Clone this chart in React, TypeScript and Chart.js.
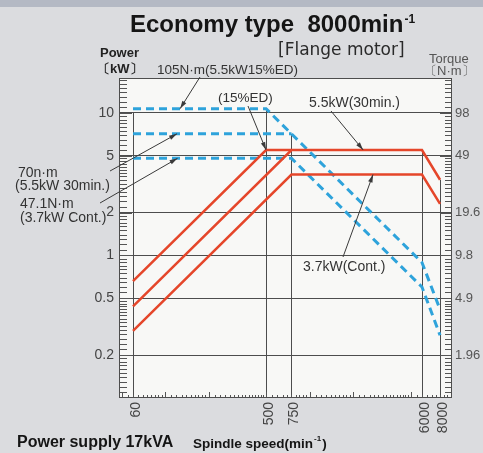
import { useEffect, useRef } from 'react';
import { Chart, registerables } from 'chart.js';

Chart.register(...registerables);

const W = 483;
const H = 453;
const KW_TO_NM = 9.8;

// axis ticks
const speedTicks = [60, 500, 750, 6000, 8000];
const powerTicks = [10, 5, 2, 1, 0.5, 0.2];
const torqueTicks = [98, 49, 19.6, 9.8, 4.9, 1.96];

// axis ranges
const speedMin = 48;
const speedMax = 9680;
const powerMin = 0.1;
const powerMax = 17.6;

// power curves (kW)
const p15Speed = [60, 500, 750];
const p15Power = [0.66, 5.5, 5.5];
const p30Speed = [60, 750, 6000, 8000];
const p30Power = [0.44, 5.5, 5.5, 3.4];
const pContSpeed = [60, 750, 6000, 8000];
const pContPower = [0.296, 3.7, 3.7, 2.3];

// torque curves (N·m)
const t15Speed = [60, 500, 6000, 8000];
const t15Torque = [105, 105, 8.75, 4.1];
const t30Speed = [60, 750];
const t30Torque = [70, 70];
const tContSpeed = [60, 750, 6000, 8000];
const tContTorque = [47.1, 47.1, 5.89, 2.7];

// vertical drop lines (speed, top in kW)
const dropSpeed = [60, 500, 750, 6000, 8000];
const dropTopPower = [10, 10.7, 7.14, 5.5, 3.4];

const FONT = "'Liberation Sans', Arial, Helvetica, sans-serif";
const RED = '#e5462a';
const BLUE = '#2ea3db';
const INK = '#333333';
const GRID = '#4d4d4d';

const xy = (xs: number[], ys: number[]) => xs.map((x, i) => ({ x, y: ys[i] }));

function minorValues(lo: number, hi: number) {
  const out: { v: number; major: boolean }[] = [];
  for (let e = -3; e <= 5; e++) {
    const d = Math.pow(10, e);
    for (let k = 10; k < 100; ) {
      const v = (d * k) / 10;
      if (v > lo && v < hi) out.push({ v, major: k === 10 || k === 20 || k === 50 });
      k += k < 20 ? 1 : k < 50 ? 2 : 5;
    }
  }
  return out;
}

function arrow(ctx: CanvasRenderingContext2D, x1: number, y1: number, x2: number, y2: number) {
  ctx.beginPath();
  ctx.moveTo(x1, y1);
  ctx.lineTo(x2, y2);
  ctx.stroke();
  const a = Math.atan2(y2 - y1, x2 - x1);
  const L = 8;
  const w = 2.3;
  ctx.beginPath();
  ctx.moveTo(x2, y2);
  ctx.lineTo(x2 - L * Math.cos(a) + w * Math.sin(a), y2 - L * Math.sin(a) - w * Math.cos(a));
  ctx.lineTo(x2 - L * Math.cos(a) - w * Math.sin(a), y2 - L * Math.sin(a) + w * Math.cos(a));
  ctx.closePath();
  ctx.fill();
}

function text(
  ctx: CanvasRenderingContext2D,
  s: string,
  x: number,
  y: number,
  font: string,
  color = INK,
  align: CanvasTextAlign = 'left'
) {
  ctx.font = font;
  ctx.fillStyle = color;
  ctx.textAlign = align;
  ctx.textBaseline = 'alphabetic';
  ctx.fillText(s, x, y);
  return ctx.measureText(s).width;
}

const decor = {
  id: 'decor',
  beforeDraw(chart: any) {
    const { ctx, chartArea: a } = chart;
    ctx.save();
    ctx.fillStyle = '#dbdcdf';
    ctx.fillRect(0, 0, chart.width, chart.height);
    ctx.fillStyle = '#b4b9c4';
    ctx.fillRect(0, 0, chart.width, 7);
    ctx.fillStyle = '#f8f8f6';
    ctx.fillRect(a.left, a.top, a.right - a.left, a.bottom - a.top);
    ctx.restore();
  },
  beforeDatasetsDraw(chart: any) {
    const { ctx, chartArea: a } = chart;
    const xs = chart.scales.x;
    const ys = chart.scales.y;
    ctx.save();
    ctx.strokeStyle = GRID;
    ctx.lineWidth = 1;
    // drop lines
    dropSpeed.forEach((s, i) => {
      const px = Math.round(xs.getPixelForValue(s)) + 0.5;
      ctx.beginPath();
      ctx.moveTo(px, ys.getPixelForValue(dropTopPower[i]));
      ctx.lineTo(px, a.bottom);
      ctx.stroke();
    });
    // minor ticks left / right
    ctx.strokeStyle = '#555';
    minorValues(powerMin, powerMax).forEach(({ v, major }) => {
      const py = Math.round(ys.getPixelForValue(v)) + 0.5;
      ctx.beginPath();
      ctx.moveTo(a.left, py);
      ctx.lineTo(a.left + (major ? 13 : 8), py);
      ctx.moveTo(a.right, py);
      ctx.lineTo(a.right - (major ? 12 : 7), py);
      ctx.stroke();
    });
    // minor ticks bottom
    minorValues(speedMin, speedMax).forEach(({ v, major }) => {
      const px = Math.round(xs.getPixelForValue(v)) + 0.5;
      ctx.beginPath();
      ctx.moveTo(px, a.bottom);
      ctx.lineTo(px, a.bottom - (major ? 6 : 3));
      ctx.stroke();
    });
    // frame
    ctx.strokeStyle = GRID;
    ctx.strokeRect(a.left + 0.5, a.top + 0.5, a.right - a.left - 1, a.bottom - a.top - 1);
    ctx.restore();
  },
  afterDraw(chart: any) {
    const { ctx } = chart;
    const xs = chart.scales.x;
    const ys = chart.scales.y;
    const yt = chart.scales.y1;
    ctx.save();
    // title
    const tw = text(ctx, 'Economy type  8000min', 130, 32, `bold 24px ${FONT}`, '#151515');
    text(ctx, '-1', 131 + tw, 23, `bold 12px ${FONT}`, '#151515');
    text(ctx, '[Flange motor]', 278, 55, `17px 'DejaVu Sans', ${FONT}`, '#2a2a2a');
    text(ctx, 'Power', 100, 57, `bold 13px ${FONT}`, '#222');
    text(ctx, '〔kW〕', 97, 73, `bold 13px ${FONT}`, '#222');
    text(ctx, 'Torque', 429, 63, `13px ${FONT}`, '#555');
    text(ctx, '〔N·m〕', 424, 75, `13px ${FONT}`, '#555');

    const f = `14px ${FONT}`;
    text(ctx, '105N·m(5.5kW15%ED)', 157, 74, `13.5px ${FONT}`);
    text(ctx, '(15%ED)', 218, 102, `13.5px ${FONT}`);
    text(ctx, '5.5kW(30min.)', 309, 107, f);
    text(ctx, '70n·m', 18, 177, f);
    text(ctx, '(5.5kW 30min.)', 15, 190, f);
    text(ctx, '47.1N·m', 20, 208, f);
    text(ctx, '(3.7kW Cont.)', 20, 222, f);
    text(ctx, '3.7kW(Cont.)', 303, 271, f);

    // bottom captions
    text(ctx, 'Power supply 17kVA', 17, 447, `bold 16px ${FONT}`, '#151515');
    const sw = text(ctx, 'Spindle speed(min', 193, 448, `bold 13.5px ${FONT}`, '#151515');
    const ew = text(ctx, '-1', 194 + sw, 441, `bold 8px ${FONT}`, '#151515');
    text(ctx, ')', 195 + sw + ew, 448, `bold 13.5px ${FONT}`, '#151515');

    // leader arrows
    ctx.strokeStyle = '#3a3a3a';
    ctx.fillStyle = '#3a3a3a';
    ctx.lineWidth = 1;
    arrow(ctx, 200, 77, xs.getPixelForValue(127), yt.getPixelForValue(105));
    arrow(ctx, 248, 106, xs.getPixelForValue(500), ys.getPixelForValue(5.5));
    arrow(ctx, 331, 111, xs.getPixelForValue(2350), ys.getPixelForValue(5.5));
    arrow(ctx, 110, 171, xs.getPixelForValue(121), yt.getPixelForValue(70));
    arrow(ctx, 100, 203, xs.getPixelForValue(122), yt.getPixelForValue(47.1));
    arrow(ctx, 343, 257, xs.getPixelForValue(2750), ys.getPixelForValue(3.7));
    ctx.restore();
  },
};

export default function App() {
  const ref = useRef<HTMLCanvasElement>(null);
  useEffect(() => {
    const prev = document.body.style.margin;
    document.body.style.margin = '0';
    const red = (data: any) => ({
      data,
      yAxisID: 'y',
      borderColor: RED,
      borderWidth: 2.5,
      pointRadius: 0,
      tension: 0,
      fill: false,
    });
    const blue = (data: any) => ({
      data,
      yAxisID: 'y1',
      borderColor: BLUE,
      borderWidth: 3,
      borderDash: [8, 5],
      pointRadius: 0,
      tension: 0,
      fill: false,
    });
    const chart = new Chart(ref.current as HTMLCanvasElement, {
      type: 'line',
      data: {
        datasets: [
          red(xy(p15Speed, p15Power)),
          red(xy(p30Speed, p30Power)),
          red(xy(pContSpeed, pContPower)),
          blue(xy(t15Speed, t15Torque)),
          blue(xy(t30Speed, t30Torque)),
          blue(xy(tContSpeed, tContTorque)),
        ] as any,
      },
      options: {
        animation: false,
        responsive: false,
        devicePixelRatio: 1,
        layout: { padding: { top: 78, left: 0, right: 0, bottom: 0 } },
        plugins: { legend: { display: false }, tooltip: { enabled: false }, title: { display: false } },
        scales: {
          x: {
            type: 'logarithmic',
            bounds: 'data',
            min: speedMin,
            max: speedMax,
            afterBuildTicks: (s: any) => {
              s.ticks = speedTicks.map((v) => ({ value: v }));
            },
            afterFit: (s: any) => {
              s.height = 55;
            },
            grid: { display: false, drawTicks: false },
            border: { display: false },
            ticks: {
              autoSkip: false,
              minRotation: 90,
              maxRotation: 90,
              padding: 4,
              labelOffset: 3,
              color: '#444',
              font: { family: FONT, size: 14 },
              callback: (v: any) => String(v),
            },
          },
          y: {
            type: 'logarithmic',
            position: 'left',
            bounds: 'data',
            min: powerMin,
            max: powerMax,
            afterBuildTicks: (s: any) => {
              s.ticks = powerTicks.map((v) => ({ value: v }));
            },
            afterFit: (s: any) => {
              s.width = 119;
            },
            grid: { color: GRID, lineWidth: 1, drawTicks: false },
            border: { display: false },
            ticks: {
              padding: 5,
              color: '#444',
              font: { family: FONT, size: 14 },
              callback: (v: any) => String(v),
            },
          },
          y1: {
            type: 'logarithmic',
            position: 'right',
            bounds: 'data',
            min: powerMin * KW_TO_NM,
            max: powerMax * KW_TO_NM,
            afterBuildTicks: (s: any) => {
              s.ticks = torqueTicks.map((v) => ({ value: v }));
            },
            afterFit: (s: any) => {
              s.width = 31;
            },
            grid: { display: false, drawTicks: false },
            border: { display: false },
            ticks: {
              padding: 3,
              color: '#555',
              font: { family: FONT, size: 13 },
              callback: (v: any) => String(v),
            },
          },
        },
      } as any,
      plugins: [decor as any],
    });
    return () => {
      chart.destroy();
      document.body.style.margin = prev;
    };
  }, []);
  return (
    <div style={{ width: W, height: H }}>
      <canvas ref={ref} width={W} height={H} style={{ display: 'block', width: W, height: H }} />
    </div>
  );
}
